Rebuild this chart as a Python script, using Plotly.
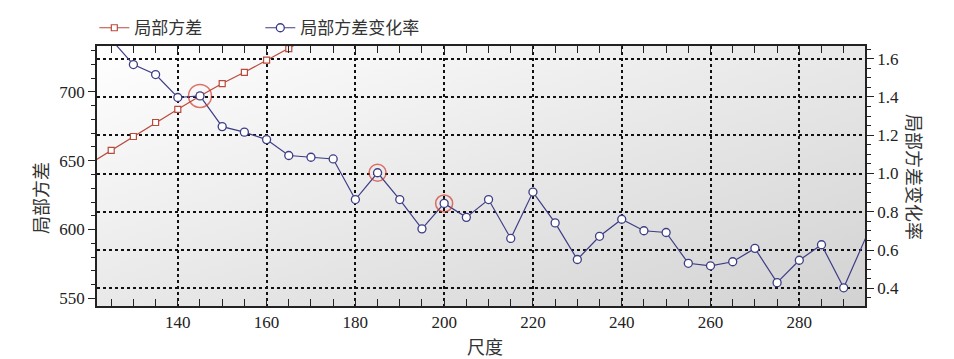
import base64
import plotly.graph_objects as go

# ---- data ----
rate_x = [125, 130, 135, 140, 145, 150, 155, 160, 165, 170, 175, 180, 185, 190, 195,
          200, 205, 210, 215, 220, 225, 230, 235, 240, 245, 250, 255, 260, 265, 270,
          275, 280, 285, 290, 300]
rate_y = [1.70, 1.569, 1.517, 1.397, 1.405, 1.245, 1.216, 1.177, 1.094, 1.085, 1.076,
          0.864, 1.004, 0.864, 0.711, 0.844, 0.771, 0.864, 0.661, 0.903, 0.742, 0.551,
          0.672, 0.761, 0.701, 0.692, 0.531, 0.518, 0.539, 0.609, 0.430, 0.547, 0.628,
          0.403, 0.93]
var_x = [120, 125, 130, 135, 140, 145, 150, 155, 160, 165, 170]
var_y = [647.5, 657.6, 667.6, 677.8, 687.4, 697.1, 706.1, 714.3, 723.2, 731.5, 740.5]
hl_x = [145, 185, 200]
hl_y = [1.405, 1.004, 0.844]
hl_size = [23, 17, 17]

x_ticks = [140, 160, 180, 200, 220, 240, 260, 280]
y1_ticks = [550, 600, 650, 700]
y2_ticks = [0.4, 0.6, 0.8, 1.0, 1.2, 1.4, 1.6]

RED = "#b94a3c"
BLUE = "#3d3d86"
CJK = "Noto Sans CJK SC"
SERIF = "Times New Roman, Liberation Serif, serif"

fig = go.Figure()
fig.add_trace(go.Scatter(
    x=var_x, y=var_y, name="局部方差", mode="lines+markers",
    line=dict(color=RED, width=1.2),
    marker=dict(symbol="square", size=6, color="white", line=dict(color=RED, width=1.2)),
    yaxis="y"))
fig.add_trace(go.Scatter(
    x=rate_x, y=rate_y, name="局部方差变化率", mode="lines+markers",
    line=dict(color=BLUE, width=1.2),
    marker=dict(symbol="circle", size=8, color="white", line=dict(color=BLUE, width=1.3)),
    yaxis="y2"))
fig.add_trace(go.Scatter(
    x=hl_x, y=hl_y, mode="markers", showlegend=False,
    marker=dict(symbol="circle-open", size=hl_size, color="#d0392b", line=dict(width=1.5)),
    yaxis="y2"))

svg = ('<svg xmlns="http://www.w3.org/2000/svg" width="100" height="100" viewBox="0 0 100 100" '
       'preserveAspectRatio="none"><defs><linearGradient id="g" x1="0" y1="0" x2="1" y2="1">'
       '<stop offset="0" stop-color="#ffffff"/><stop offset="1" stop-color="#d2d2d2"/>'
       '</linearGradient></defs><rect width="100" height="100" fill="url(#g)"/></svg>')
src = "data:image/svg+xml;base64," + base64.b64encode(svg.encode()).decode()

tickfont = dict(family=SERIF, size=17, color="#222")
title_font = dict(family=CJK, size=18, color="#333")
fig.update_layout(
    width=946, height=351,
    margin=dict(l=89, r=89, t=38, b=53, autoexpand=False),
    paper_bgcolor="white", plot_bgcolor="rgba(0,0,0,0)",
    images=[dict(source=src, xref="paper", yref="paper", x=0, y=1, sizex=1, sizey=1,
                 sizing="stretch", layer="below", xanchor="left", yanchor="top")],
    showlegend=True,
    legend=dict(orientation="h", x=-0.0035, y=1.0685, xanchor="left", yanchor="middle",
                font=dict(family=CJK, size=17, color="#333"), bgcolor="rgba(0,0,0,0)",
                entrywidth=121, entrywidthmode="pixels", itemwidth=30),
    xaxis=dict(range=[121.8, 294.8], tickvals=x_ticks, ticks="inside", ticklen=7,
               tickcolor="#222", showline=True, linecolor="#222", linewidth=1.5,
               mirror="allticks", showgrid=True, gridcolor="#111", griddash="dot",
               gridwidth=1.6, zeroline=False, tickfont=tickfont,
               minor=dict(dtick=5, ticks="inside", ticklen=4, tickcolor="#222", showgrid=False)),
    yaxis=dict(range=[544.4, 733.4], tickvals=y1_ticks, ticks="outside", ticklen=7,
               tickcolor="#222", showline=True, linecolor="#222", linewidth=1.5,
               showgrid=False, zeroline=False, tickfont=tickfont,
               minor=dict(dtick=10, ticks="outside", ticklen=4, tickcolor="#222", showgrid=False)),
    yaxis2=dict(range=[0.308, 1.666], tickvals=y2_ticks, ticktext=[f"{v:.1f}" for v in y2_ticks],
                overlaying="y", side="right", ticks="outside", ticklen=7,
                tickcolor="#222", showline=True, linecolor="#222", linewidth=1.5,
                showgrid=True, gridcolor="#111", griddash="dot", gridwidth=1.6,
                zeroline=False, tickfont=tickfont,
                minor=dict(dtick=0.05, ticks="outside", ticklen=4, tickcolor="#222", showgrid=False)),
    annotations=[
        dict(text="局部方差", xref="paper", yref="paper", x=-0.0742, y=0.415, textangle=-90,
             xanchor="center", yanchor="middle", showarrow=False, font=title_font),
        dict(text="局部方差变化率", xref="paper", yref="paper", x=1.065, y=0.496, textangle=90,
             xanchor="center", yanchor="middle", showarrow=False, font=title_font),
        dict(text="尺度", xref="paper", yref="paper", x=0.505, y=-0.154,
             xanchor="center", yanchor="middle", showarrow=False, font=title_font),
    ],
)
fig.write_html("out.html")
